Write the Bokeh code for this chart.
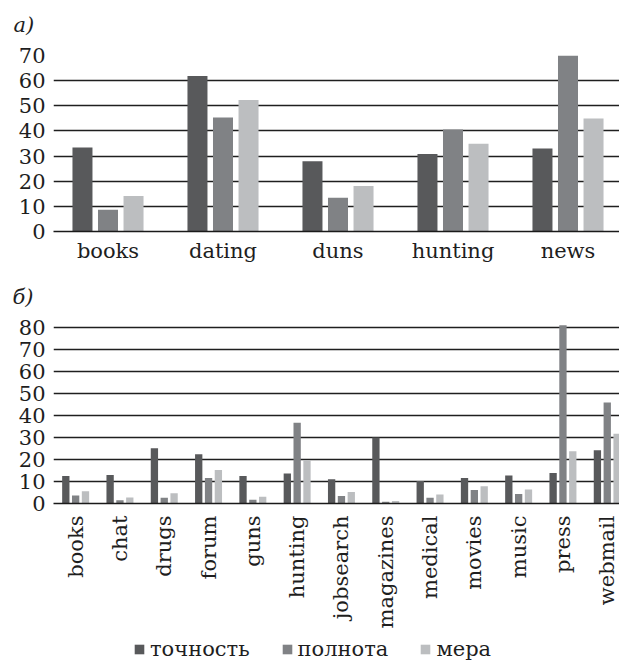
import math
import numpy as np
from bokeh.plotting import figure
from bokeh.models import FixedTicker, Legend, LegendItem, Range1d, Title
from bokeh.layouts import column
from bokeh.embed import file_html
from bokeh.resources import INLINE

FONT = "DejaVu Serif"
FS = "21px"

series = ["точность", "полнота", "мера"]
colors = ["#58595b", "#808285", "#bcbec0"]

# panel а)
cats_a = ["books", "dating", "duns", "hunting", "news"]
tochnost_a = [33.4, 61.8, 27.9, 30.8, 33.0]
polnota_a = [8.7, 45.3, 13.4, 40.6, 70.0]
mera_a = [14.1, 52.3, 18.1, 34.9, 44.9]
yticks_a = [0, 10, 20, 30, 40, 50, 60, 70]

# panel б)
cats_b = ["books", "chat", "drugs", "forum", "guns", "hunting", "jobsearch",
          "magazines", "medical", "movies", "music", "press", "webmail"]
tochnost_b = [12.5, 13.0, 25.2, 22.4, 12.5, 13.7, 11.0, 30.1, 10.2, 11.6, 12.8, 13.9, 24.3]
polnota_b = [3.7, 1.5, 2.6, 11.6, 1.7, 36.8, 3.4, 0.8, 2.6, 6.1, 4.3, 81.2, 46.0]
mera_b = [5.6, 2.7, 4.7, 15.3, 3.1, 19.8, 5.2, 1.1, 4.1, 7.9, 6.4, 23.8, 31.8]
yticks_b = [0, 10, 20, 30, 40, 50, 60, 70, 80]

LEFT = 53  # common frame left (column aligns frames)


def make_panel(cats, vals, yticks, width, height, mb_top, mb_bottom,
               x_start, x_end, y_end, bar_w, title, t_offset, gap, vertical):
    p = figure(width=width, height=height, output_backend="svg", toolbar_location=None,
               x_range=Range1d(x_start, x_end), y_range=Range1d(0, y_end),
               min_border_left=LEFT, min_border_right=0,
               min_border_top=mb_top, min_border_bottom=mb_bottom)
    # outer panel title
    p.title = Title(text=title, align="left", offset=t_offset, standoff=0,
                    text_font=FONT, text_font_size=FS, text_font_style="italic",
                    text_color="#1e1e1e", vertical_align="bottom")
    # blank spacer between title and frame
    p.add_layout(Title(text=" ", text_font_size="1px", standoff=gap), "above")
    p.outline_line_color = None
    centers = np.arange(len(cats)) + 0.5
    offsets = [-0.222, 0.0, 0.222]
    for v, c, o in zip(vals, colors, offsets):
        p.vbar(x=centers + o, top=v, width=bar_w, bottom=0,
               fill_color=c, line_color=None)
    p.xaxis.ticker = FixedTicker(ticks=list(centers))
    p.xaxis.major_label_overrides = {float(c): n for c, n in zip(centers, cats)}
    p.xaxis.major_tick_line_color = None
    p.xaxis.major_tick_out = 0
    p.xaxis.major_tick_in = 0
    p.xaxis.minor_tick_line_color = None
    p.xaxis.axis_line_color = "#1a1a1a"
    p.xaxis.axis_line_width = 1.5
    p.xaxis.major_label_text_font = FONT
    p.xaxis.major_label_text_font_size = FS
    p.xaxis.major_label_text_color = "#1e1e1e"
    if vertical:
        p.xaxis.major_label_orientation = math.pi / 2
        p.xaxis.major_label_standoff = 12
    else:
        p.xaxis.major_label_standoff = 7
    p.yaxis.ticker = FixedTicker(ticks=yticks)
    p.yaxis.axis_line_color = None
    p.yaxis.major_tick_line_color = None
    p.yaxis.major_tick_out = 0
    p.yaxis.major_tick_in = 0
    p.yaxis.minor_tick_line_color = None
    p.yaxis.major_label_standoff = 8
    p.yaxis.major_label_text_font = FONT
    p.yaxis.major_label_text_font_size = FS
    p.yaxis.major_label_text_color = "#1e1e1e"
    p.xgrid.grid_line_color = None
    p.ygrid.grid_line_color = "#1f1f1f"
    p.ygrid.grid_line_width = 1.3
    return p


# top: category width 115 px; the reference frame starts 3 px left of LEFT
xa0 = (LEFT - 50) / 115
p1 = make_panel(cats_a, [tochnost_a, polnota_a, mera_a], yticks_a,
                619, 278, 55, 47, xa0, xa0 + (619 - LEFT) / 115, 70, 0.174,
                "а)", -40, 16, False)

p2 = make_panel(cats_b, [tochnost_b, polnota_b, mera_b], yticks_b,
                619, 355, 45, 130, 0, (619 - LEFT) / 44.3, 82, 0.165,
                "б)", -41, 12, True)

# legend strip
p3 = figure(width=619, height=28, output_backend="svg", toolbar_location=None,
            x_range=Range1d(0, 1), y_range=Range1d(0, 1),
            min_border_left=LEFT, min_border_right=0, min_border_top=0, min_border_bottom=0)
p3.axis.visible = False
p3.grid.visible = False
p3.outline_line_color = None
dummies = [p3.vbar(x=[np.nan], top=[np.nan], width=0.1, fill_color=c, line_color=None)
           for c in colors]
legend = Legend(items=[LegendItem(label=s, renderers=[r]) for s, r in zip(series, dummies)],
                orientation="horizontal", location=(133 - LEFT, 0),
                glyph_width=12, glyph_height=12, label_standoff=5, spacing=31,
                padding=0, margin=0, border_line_color=None, background_fill_alpha=0,
                label_text_font=FONT, label_text_font_size=FS,
                label_text_color="#1e1e1e", label_text_baseline="alphabetic")
p3.add_layout(legend, "center")

layout = column(p1, p2, p3, spacing=0)
open("out.html", "w").write(file_html(layout, INLINE))
